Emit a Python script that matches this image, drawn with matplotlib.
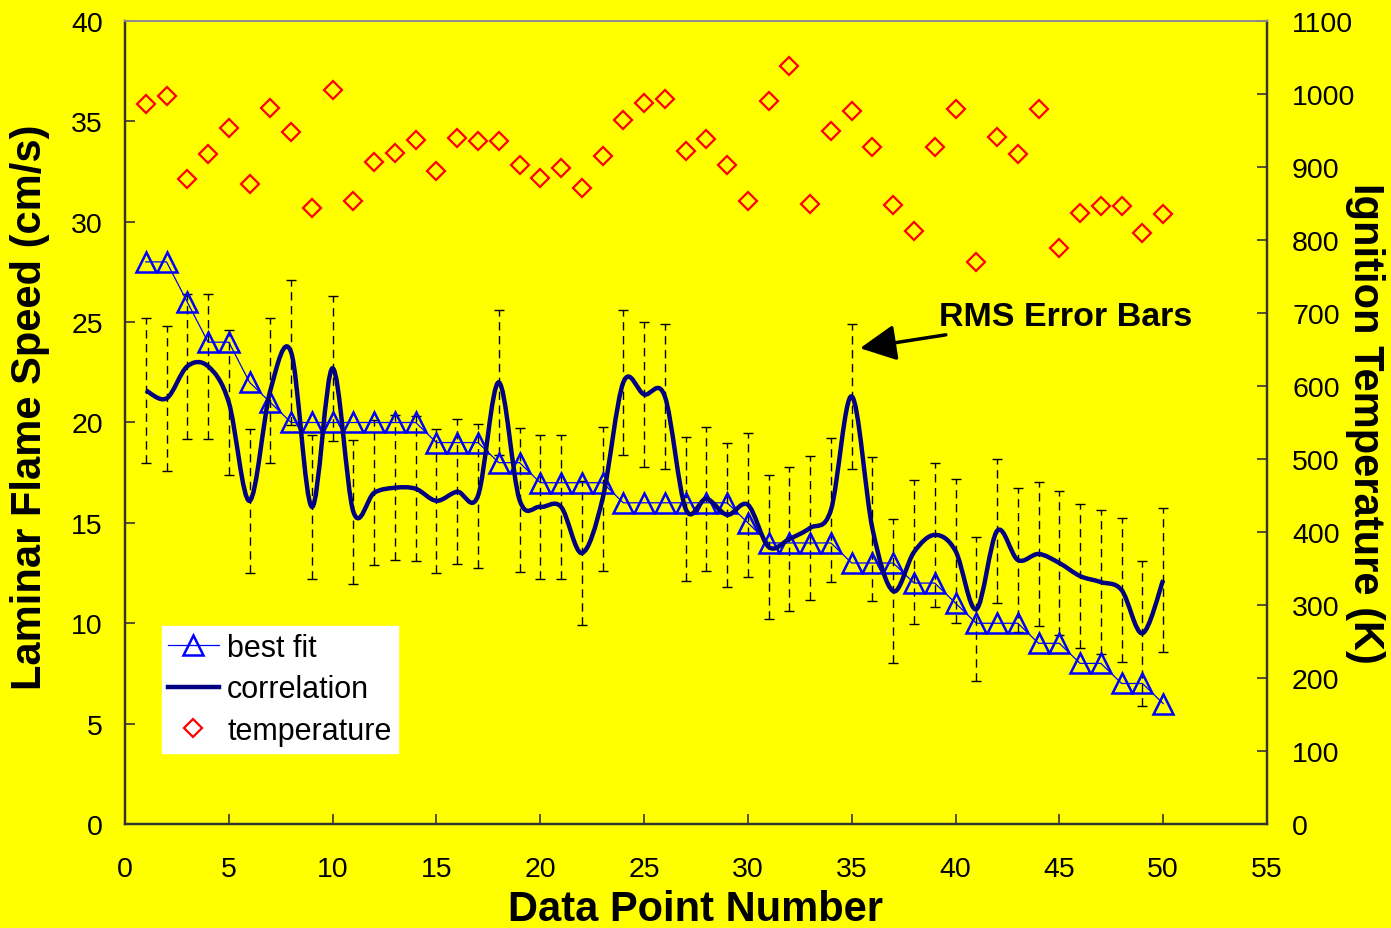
import matplotlib
matplotlib.use("Agg")
from matplotlib import pyplot as plt
from matplotlib.path import Path
from matplotlib.patches import PathPatch
from matplotlib.lines import Line2D
import numpy as np

plt.rcParams['font.family'] = ['Liberation Sans', 'DejaVu Sans']

point_number = list(range(1, 51))

best_fit = [28, 28, 26, 24, 24, 22, 21, 20, 20, 20, 20, 20, 20, 20, 19, 19, 19, 18, 18, 17,
            17, 17, 17, 16, 16, 16, 16, 16, 16, 15, 14, 14, 14, 14, 13, 13, 13, 12, 12, 11,
            10, 10, 10, 9, 9, 8, 8, 7, 7, 6]

correlation = [21.6, 21.2, 22.8, 22.8, 21.0, 16.1, 21.6, 23.5, 15.8, 22.7,
               15.55, 16.5, 16.75, 16.7, 16.1, 16.55, 16.35, 22.0, 16.15, 15.8,
               15.8, 13.5, 16.2, 22.0, 21.4, 21.3, 15.7, 16.2, 15.4, 15.9,
               13.8, 14.2, 14.75, 15.65, 21.3, 14.7, 11.6, 13.55, 14.4, 13.6,
               10.7, 14.6, 13.15, 13.45, 13.0, 12.35, 12.05, 11.65, 9.5, 12.15]

rms_error = 3.6

temperature = [986, 997, 884, 918, 954, 877, 981, 948, 844, 1005,
               854, 907, 919, 937, 894, 940, 936, 936, 903, 885,
               899, 871, 915, 964, 988, 993, 922, 939, 903, 853,
               991, 1038, 849, 950, 977, 928, 848, 813, 927, 980,
               770, 941, 918, 980, 789, 837, 847, 846, 810, 836]


def smooth_path(x, y):
    # bezier segments through the points, like a spreadsheet "smoothed line"
    x = np.asarray(x, float)
    y = np.asarray(y, float)
    pts = np.column_stack([x, y])
    ext = np.vstack([pts[0], pts, pts[-1]])
    verts = [pts[0]]
    codes = [Path.MOVETO]
    for i in range(len(pts) - 1):
        p0, p1, p2, p3 = ext[i], ext[i + 1], ext[i + 2], ext[i + 3]
        verts += [p1 + (p2 - p0) / 6, p2 - (p3 - p1) / 6, p2]
        codes += [Path.CURVE4] * 3
    return Path(verts, codes)


def main():
    fig = plt.figure(figsize=(13.91, 9.29), dpi=100, facecolor='#FFFF00')
    ax = fig.add_axes([125 / 1391, 1 - 825 / 929, 1142 / 1391, 803 / 929])
    ax.set_facecolor('#FFFF00')
    ax2 = ax.twinx()

    eb = ax.errorbar(point_number, correlation, yerr=rms_error, fmt='none',
                     ecolor='black', elinewidth=1, capsize=3.6, capthick=1, zorder=2)
    eb[2][0].set_linestyle((0, (6, 4)))

    ax.plot(point_number, best_fit, color='#0000FF', lw=0.9, marker='^', ms=15,
            mfc='none', mec='#0000FF', mew=1.8, zorder=3)

    ax.add_patch(PathPatch(smooth_path(point_number, correlation), facecolor='none',
                           edgecolor='#000080', lw=3.2, zorder=4))

    ax2.plot(point_number, temperature, ls='none', marker='D', ms=9.5,
             mfc='none', mec='#FF0000', mew=1.6)

    ax.set_xlim(0, 55)
    ax.set_ylim(0, 40)
    ax2.set_ylim(0, 1100)
    ax.set_xticks(range(0, 56, 5))
    ax.set_yticks(range(0, 41, 5))
    ax2.set_yticks(range(0, 1101, 100))

    ax.tick_params(axis='both', direction='in', length=7, width=1.2,
                   labelsize=20.5, color='#333333')
    ax.tick_params(axis='x', pad=23)
    ax.tick_params(axis='y', pad=16)
    ax2.tick_params(axis='y', direction='in', length=7, width=1.2,
                    labelsize=20.5, pad=18, color='#333333')

    for a in (ax, ax2):
        for side in ('left', 'bottom', 'right'):
            a.spines[side].set_color('#333333')
            a.spines[side].set_linewidth(1.6)
        a.spines['top'].set_color('#909090')
        a.spines['top'].set_linewidth(1.3)

    ax.set_xlabel("Data Point Number", fontsize=30, fontweight='bold', va='center')
    ax.xaxis.set_label_coords(0.5, -0.106)
    ax.set_ylabel("Laminar Flame Speed (cm/s)", fontsize=30, fontweight='bold', va='center')
    ax.yaxis.set_label_coords(-0.083, 0.52)
    ax2.set_ylabel("Ignition Temperature (K)", fontsize=30, fontweight='bold',
                   rotation=-90, va='center')
    ax2.yaxis.set_label_coords(1.086, 0.50)

    ax.annotate("RMS Error Bars", xy=(35.4, 23.7), xytext=(39.2, 25.3),
                fontsize=24.5, fontweight='bold', ha='left', va='center',
                arrowprops=dict(arrowstyle='-|>,head_length=0.9,head_width=0.45',
                                color='black', lw=2.5, shrinkA=2, shrinkB=0),
                zorder=6)

    handles = [
        Line2D([], [], color='#0000FF', lw=0.9, marker='^', ms=15, mfc='none',
               mec='#0000FF', mew=1.8),
        Line2D([], [], color='#000080', lw=3.2),
        Line2D([], [], ls='none', marker='D', ms=9.5, mfc='none', mec='#FF0000', mew=1.6),
    ]
    leg = ax2.legend(handles, ['best fit', 'correlation', 'temperature'],
                     loc='lower left', bbox_to_anchor=(0.032, 0.089), fontsize=22,
                     frameon=True, fancybox=False, framealpha=1, facecolor='white',
                     edgecolor='white', numpoints=1, handlelength=1.65,
                     handletextpad=0.28, labelspacing=0.38, borderpad=0.22,
                     borderaxespad=0)
    leg.set_zorder(10)

    fig.savefig("out.png", dpi=100, facecolor='#FFFF00')


if __name__ == "__main__":
    main()
